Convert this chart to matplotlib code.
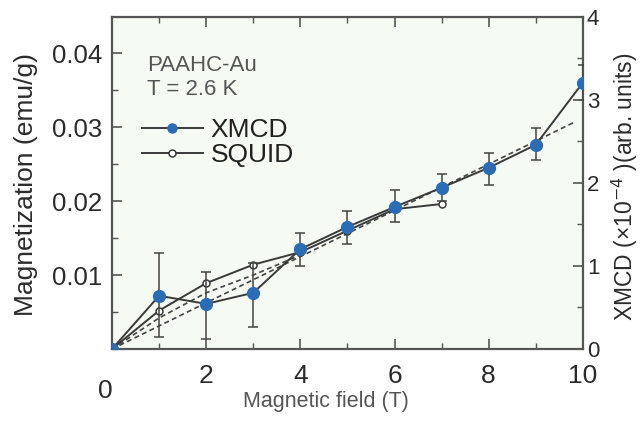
import matplotlib
matplotlib.use("Agg")
import matplotlib.pyplot as plt
from matplotlib.ticker import MultipleLocator, FixedLocator
from matplotlib.lines import Line2D

plt.rcParams['font.family'] = ['Liberation Sans', 'DejaVu Sans']

# ---- data ----
field_xmcd = [0, 1, 2, 3, 4, 5, 6, 7, 8, 9, 10]
mag_xmcd = [0.0, 0.0072, 0.0061, 0.0076, 0.0135, 0.0165, 0.0192, 0.0218, 0.0245, 0.0276, 0.0360]
err_lo = [0.0, 0.0056, 0.0048, 0.0046, 0.0023, 0.0023, 0.0020, 0.0018, 0.0023, 0.0021, 0.0023]
err_hi = [0.0, 0.0058, 0.0043, 0.0040, 0.0022, 0.0021, 0.0023, 0.0018, 0.0020, 0.0023, 0.0024]

field_squid = [0, 1, 2, 3, 4, 5, 6, 7]
mag_squid = [0.0, 0.0052, 0.0089, 0.0114, 0.0131, 0.0160, 0.0189, 0.0196]

fit_lin_x = [0, 9.8]
fit_lin_y = [0.0, 0.0306]
fit_curve_x = [0, 1, 2, 3, 4]
fit_curve_y = [0.0, 0.0042, 0.0076, 0.0100, 0.0127]

xticks = [0, 2, 4, 6, 8, 10]
xtick_labels = ['', '2', '4', '6', '8', '10']
yticks_left = [0.01, 0.02, 0.03, 0.04]
ytick_left_labels = ['0.01', '0.02', '0.03', '0.04']
yticks_right = [0, 1, 2, 3, 4]

# ---- figure ----
fig = plt.figure(figsize=(6.44, 4.21), dpi=100)
fig.patch.set_facecolor('white')
ax = fig.add_axes([0.174, 0.171, 0.731, 0.789])
ax.set_facecolor('#f5faf3')

dark = '#3a3a3a'
blue = '#2a6cb5'
txt = '#2b2b2b'

ax.plot(fit_lin_x, fit_lin_y, ls=(0, (3, 2)), color='#444444', lw=1.2, zorder=2)
ax.plot(fit_curve_x, fit_curve_y, ls=(0, (3, 2)), color='#444444', lw=1.2, zorder=2)

ax.plot(field_squid, mag_squid, '-', color=dark, lw=1.4, marker='o', ms=5,
        mfc='white', mec=dark, mew=1.1, zorder=3)

ax.errorbar(field_xmcd, mag_xmcd, yerr=[err_lo, err_hi], fmt='none',
            ecolor='#444444', elinewidth=1.1, capsize=3.6, capthick=1.1, zorder=3)
ax.plot(field_xmcd, mag_xmcd, '-', color=dark, lw=1.4, marker='o', ms=8.5,
        mfc=blue, mec=blue, zorder=4)

ax.set_xlim(0, 10)
ax.set_ylim(0, 0.0449)

ax.xaxis.set_major_locator(FixedLocator(xticks))
ax.set_xticklabels(xtick_labels)
ax.xaxis.set_minor_locator(MultipleLocator(1))
ax.yaxis.set_major_locator(FixedLocator(yticks_left))
ax.set_yticklabels(ytick_left_labels)
ax.yaxis.set_minor_locator(MultipleLocator(0.005))

ax.tick_params(axis='x', which='both', direction='in', top=True, bottom=True,
               labelsize=19, pad=11, colors='#555555', labelcolor=txt)
ax.tick_params(axis='y', which='both', direction='in', left=True, right=False,
               labelsize=18.5, pad=7, colors='#555555', labelcolor=txt)
ax.tick_params(which='major', length=7, width=1.2)
ax.tick_params(which='minor', length=4, width=1.0)

for s in ax.spines.values():
    s.set_color('#555555')
    s.set_linewidth(1.6)

ax2 = ax.twinx()
ax2.set_ylim(0, 4)
ax2.yaxis.set_major_locator(FixedLocator(yticks_right))
ax2.yaxis.set_minor_locator(MultipleLocator(0.5))
ax2.tick_params(axis='y', which='both', direction='in', labelsize=16, pad=3,
                colors='#555555', labelcolor=txt)
ax2.tick_params(which='major', length=7, width=1.2)
ax2.tick_params(which='minor', length=4, width=1.0)
for s in ax2.spines.values():
    s.set_visible(False)

# origin label
ax.text(-0.015, -0.125, '0', transform=ax.transAxes, ha='center', va='center',
        fontsize=19, color=txt)

fig.text(326 / 644, 1 - 402 / 421, 'Magnetic field (T)', ha='center', va='center',
         fontsize=15.5, color='#555555')
fig.text(26 / 644, 1 - 185 / 421, 'Magnetization (emu/g)', ha='center', va='center',
         rotation=90, fontsize=19, color=txt)
fig.text(625 / 644, 1 - 187 / 421, 'XMCD (\u00d710$^{-4}$ )(arb. units)', ha='center',
         va='center', rotation=90, fontsize=16.5, color=txt)

ax.text((147 - 112) / 471, (349 - 66) / 332, 'PAAHC-Au', transform=ax.transAxes,
        ha='left', va='center', fontsize=16, color='#555555')
ax.text((147 - 112) / 471, (349 - 90) / 332, 'T = 2.6 K', transform=ax.transAxes,
        ha='left', va='center', fontsize=16, color='#555555')

handles = [
    Line2D([], [], color=dark, lw=1.4, marker='o', ms=6.5, mfc=blue, mec=blue),
    Line2D([], [], color=dark, lw=1.4, marker='o', ms=5, mfc='white', mec=dark, mew=1.1),
]
ax.legend(handles, ['XMCD', 'SQUID'], loc='upper left',
          bbox_to_anchor=((142 - 112) / 471, (349 - 118) / 332), frameon=False,
          fontsize=19, handlelength=2.3, handletextpad=0.3, labelspacing=0.05,
          borderpad=0, borderaxespad=0, labelcolor='#222222')

fig.savefig('out.png', dpi=100)
